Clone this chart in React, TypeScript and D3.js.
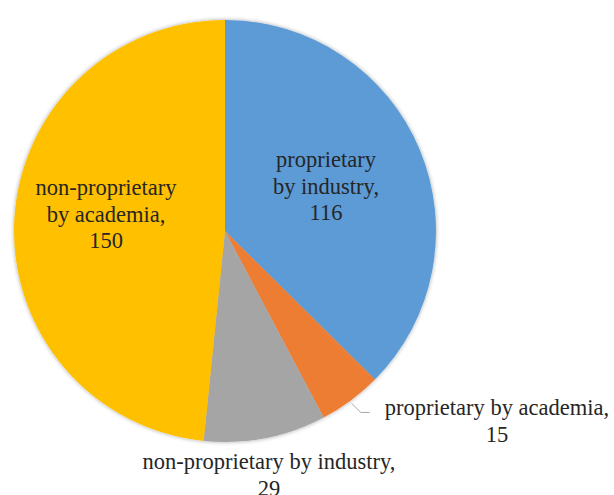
import React from "react";
import * as d3 from "d3";

const categories = [
  "proprietary by industry",
  "proprietary by academia",
  "non-proprietary by industry",
  "non-proprietary by academia",
];
const values = [116, 15, 29, 150];
const colors = ["#5B9BD5", "#ED7D31", "#A5A5A5", "#FFC000"];
const labelLines = [
  ["proprietary", "by industry,", "116"],
  ["proprietary by academia,", "15"],
  ["non-proprietary by industry,", "29"],
  ["non-proprietary", "by academia,", "150"],
];

const W = 614;
const H = 495;
const cx = 225;
const cy = 231;
const R = 211;
const FS = 22.5;
const LH = 26.5;
const FONT = "Liberation Serif, Times New Roman, DejaVu Serif, serif";

export default function App() {
  const pie = d3.pie<number>().sort(null).value((d) => d);
  const arcs = pie(values);
  const arcGen = d3.arc<d3.PieArcDatum<number>>().innerRadius(0).outerRadius(R);

  const labelPos: [number, number][] = [
    [326, 167],
    [497, 415],
    [269, 469],
    [106, 195],
  ];

  const a1 = arcs[1];
  const mid = (a1.startAngle + a1.endAngle) / 2;
  const ex = cx + R * Math.sin(mid);
  const ey = cy - R * Math.cos(mid);
  const leader = d3.path();
  leader.moveTo(ex + 1, ey + 3);
  leader.lineTo(ex + 10, ey + 12);
  leader.lineTo(ex + 19, ey + 12);

  return (
    <svg
      width={W}
      height={H}
      style={{ position: "absolute", left: 0, top: 0, background: "#fff" }}
    >
      <defs>
        <filter id="sh" x="-10%" y="-10%" width="120%" height="120%">
          <feGaussianBlur in="SourceAlpha" stdDeviation="2" />
          <feComponentTransfer>
            <feFuncA type="linear" slope="0.35" />
          </feComponentTransfer>
          <feMerge>
            <feMergeNode />
            <feMergeNode in="SourceGraphic" />
          </feMerge>
        </filter>
      </defs>
      <g transform={`translate(${cx},${cy})`} filter="url(#sh)">
        {arcs.map((a, i) => (
          <path key={categories[i]} d={arcGen(a) || ""} fill={colors[i]} />
        ))}
      </g>
      <path d={leader.toString()} fill="none" stroke="#A6A6A6" strokeWidth={1} />
      {labelLines.map((lines, i) => (
        <text
          key={i}
          x={labelPos[i][0]}
          y={labelPos[i][1]}
          textAnchor="middle"
          style={{ fontFamily: FONT, fontSize: FS }}
          fill="#262626"
        >
          {lines.map((l, j) => (
            <tspan key={j} x={labelPos[i][0]} dy={j === 0 ? 0 : LH}>
              {l}
            </tspan>
          ))}
        </text>
      ))}
    </svg>
  );
}
